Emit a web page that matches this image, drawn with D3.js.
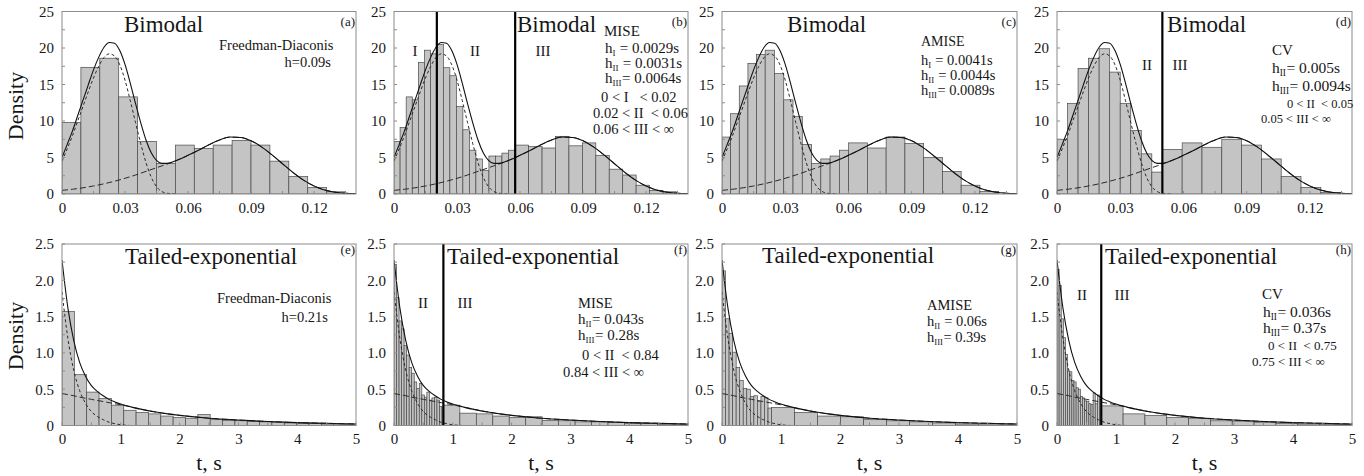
<!DOCTYPE html>
<html><head><meta charset="utf-8">
<script src="https://cdn.jsdelivr.net/npm/d3@7"></script>
<style>
body{margin:0;background:#fff}
text{font-family:"Liberation Serif","Times New Roman",serif;fill:#161616;white-space:pre}
</style>
</head><body><svg id="c" width="1364" height="476"></svg>
<script>
// ---------------- DATA ----------------
const topXTicks = [0, 0.03, 0.06, 0.09, 0.12];
const topYTicks = [0, 5, 10, 15, 20, 25];
const botXTicks = [0, 1, 2, 3, 4, 5];
const botYTicks = [0, 0.5, 1.0, 1.5, 2.0, 2.5];

// (a) Freedman-Diaconis
const aBinWidth = 0.009;
const aDensity = [9.8, 17.35, 18.6, 13.3, 7.2, 4.2, 6.7, 6.25, 6.7, 7.35, 6.7, 4.5, 2.4, 0.9, 0.3];
// (b) MISE
const bEdges = [0, 0.0204, 0.0577, Infinity];
const bWidths = [0.0029, 0.0031, 0.0064];
const bDensityI = [7.2, 9.1, 13.3, 12.9, 18.0, 19.7, 19.2];
const bDensityII = [20.5, 17.3, 16.2, 12.0, 8.8, 6.0, 4.8, 3.2, 5.2, 5.2, 5.6, 6.0];
const bDensityIII = [6.7, 6.5, 6.3, 7.9, 6.6, 7.0, 5.3, 3.4, 2.6, 1.2, 0.5, 0.3];
const bDividers = [0.0204, 0.0577];
// (c) AMISE
const cEdges = [0, 0.0205, 0.0601, Infinity];
const cWidths = [0.0041, 0.0044, 0.0089];
const cDensityI = [7.8, 11.0, 14.8, 17.9, 19.1];
const cDensityII = [19.7, 16.5, 12.9, 10.6, 6.8, 4.2, 4.8, 5.2, 6.0];
const cDensityIII = [7.0, 6.3, 7.8, 6.9, 5.0, 3.1, 1.2, 0.35];
// (d) CV
const dEdges = [0, 0.05, Infinity];
const dWidths = [0.005, 0.0094];
const dDensityII = [7.5, 12.4, 17.2, 18.6, 19.9, 16.7, 12.4, 8.7, 5.5, 3.0];
const dDensityIII = [6.1, 7.0, 6.4, 7.5, 6.7, 4.8, 2.4, 0.9, 0.2];
const dDividers = [0.05];

// Bimodal fitted curves
const bimX = [0, 0.0025, 0.005, 0.0075, 0.01, 0.0125, 0.015, 0.0175, 0.02, 0.0225, 0.025, 0.0275, 0.03, 0.0325, 0.035, 0.0375, 0.04, 0.0425, 0.045, 0.0475, 0.05, 0.055];
const bimNarrow = [4.5, 6.2, 8.0, 10.0, 12.0, 14.0, 15.9, 17.5, 18.7, 19.2, 18.9, 17.7, 15.6, 12.8, 9.8, 6.9, 4.3, 2.3, 1.0, 0.35, 0.1, 0.0];
const bimWideX = [0, 0.005, 0.01, 0.015, 0.02, 0.025, 0.03, 0.035, 0.04, 0.045, 0.05, 0.055, 0.06, 0.065, 0.07, 0.075, 0.08, 0.085, 0.09, 0.095, 0.1, 0.105, 0.11, 0.115, 0.12, 0.125, 0.13, 0.135, 0.14];
const bimWide = [0.5, 0.65, 0.85, 1.1, 1.4, 1.75, 2.15, 2.6, 3.1, 3.6, 4.1, 4.65, 5.3, 6.0, 6.75, 7.4, 7.8, 7.75, 7.3, 6.45, 5.35, 4.15, 2.95, 1.9, 1.1, 0.55, 0.25, 0.1, 0.04];
const bimMixX = [0, 0.0025, 0.005, 0.0075, 0.01, 0.0125, 0.015, 0.0175, 0.02, 0.0225, 0.025, 0.0275, 0.03, 0.0325, 0.035, 0.0375, 0.04, 0.0425, 0.045, 0.0475, 0.05, 0.055, 0.06, 0.065, 0.07, 0.075, 0.08, 0.085, 0.09, 0.095, 0.1, 0.105, 0.11, 0.115, 0.12, 0.125, 0.13, 0.135, 0.14];
const bimMix = [5.0, 6.8, 8.65, 10.75, 12.85, 14.95, 17.0, 18.75, 20.1, 20.75, 20.65, 19.65, 17.75, 15.2, 12.4, 9.75, 7.4, 5.65, 4.6, 4.2, 4.2, 4.65, 5.3, 6.0, 6.75, 7.4, 7.8, 7.75, 7.3, 6.45, 5.35, 4.15, 2.95, 1.9, 1.1, 0.55, 0.25, 0.1, 0.04];

// (e) Freedman-Diaconis
const eBinWidth = 0.21;
const eDensity = [1.57, 0.70, 0.46, 0.37, 0.28, 0.21, 0.18, 0.16, 0.13, 0.11, 0.10, 0.15, 0.08, 0.07, 0.065, 0.055, 0.05, 0.045, 0.035, 0.03, 0.03, 0.02, 0.02, 0.02];
// (f) MISE
const fEdges = [0, 0.84, Infinity];
const fWidths = [0.043, 0.28];
const fDensityII = [2.22, 1.76, 1.44, 1.33, 1.10, 0.97, 0.80, 0.72, 0.60, 0.51, 0.58, 0.42, 0.39, 0.46, 0.35, 0.38, 0.39, 0.35, 0.26, 0.25];
const fDensityIII = [0.28, 0.17, 0.16, 0.13, 0.11, 0.12, 0.07, 0.065, 0.05, 0.05, 0.04, 0.025, 0.025, 0.015, 0.015];
const fDividers = [0.84];
// (g) AMISE
const gEdges = [0, 0.84, Infinity];
const gWidths = [0.06, 0.39];
const gDensityII = [2.13, 1.47, 1.27, 1.01, 0.80, 0.62, 0.51, 0.50, 0.40, 0.41, 0.33, 0.40, 0.38, 0.24];
const gDensityIII = [0.25, 0.18, 0.13, 0.12, 0.08, 0.065, 0.05, 0.035, 0.02, 0.02, 0.02];
// (h) CV
const hEdges = [0, 0.75, Infinity];
const hWidths = [0.036, 0.37];
const hDensityII = [2.15, 1.93, 1.47, 1.21, 0.98, 0.75, 0.74, 0.62, 0.60, 0.52, 0.50, 0.40, 0.38, 0.34, 0.33, 0.30, 0.29, 0.45, 0.30, 0.42, 0.36];
const hDensityIII = [0.27, 0.16, 0.14, 0.11, 0.10, 0.065, 0.06, 0.045, 0.03, 0.02, 0.015, 0.015];
const hDividers = [0.75];

// Tailed-exponential fitted curves
const expT = [0, 0.1, 0.2, 0.3, 0.4, 0.5, 0.6, 0.7, 0.8, 0.9, 1.0, 1.2, 1.4, 1.6, 1.8, 2.0, 2.5, 3.0, 3.5, 4.0, 4.5, 5.0];
const expSlow = [0.44, 0.425, 0.41, 0.39, 0.375, 0.36, 0.345, 0.33, 0.315, 0.30, 0.285, 0.25, 0.215, 0.185, 0.16, 0.14, 0.10, 0.075, 0.055, 0.04, 0.03, 0.02];
const expFast = [1.84, 1.2, 0.76, 0.48, 0.305, 0.19, 0.125, 0.08, 0.045, 0.025, 0.01, 0, 0, 0, 0, 0, 0, 0, 0, 0, 0, 0];
const expMix = [2.28, 1.62, 1.17, 0.87, 0.68, 0.55, 0.47, 0.41, 0.36, 0.325, 0.295, 0.25, 0.215, 0.185, 0.16, 0.14, 0.10, 0.075, 0.055, 0.04, 0.03, 0.02];

// ---------------- LAYOUT ----------------
const colX = [[62, 356], [394, 688], [722, 1017], [1057, 1352]];
const rowY = [[194, 11.5], [425.5, 244]];

const zip = (xs, ys) => xs.map((x, i) => [x, ys[i]]);
const region = (start, end, w, vals) => vals.map((v, i) => ({x0: start + i * w, x1: Math.min(start + (i + 1) * w, end), v}));

const topCurves = [
  {pts: zip(bimX, bimNarrow), dash: "3,2.5"},
  {pts: zip(bimWideX, bimWide), dash: "6,3"},
  {pts: zip(bimMixX, bimMix), dash: null}
];
const botCurves = [
  {pts: zip(expT, expFast), dash: "3,2.5"},
  {pts: zip(expT, expSlow), dash: "6,3"},
  {pts: zip(expT, expMix), dash: null}
];

const panels = [
  {row: 0, col: 0, letter: "(a)", bins: region(0, Infinity, aBinWidth, aDensity), div: [],
   title: {x: 124, y: 32, t: "Bimodal"},
   notes: [{x: 219, y: 50, t: "Freedman-Diaconis", s: 14.5}, {x: 331, y: 67, t: "h=0.09s", a: "end", s: 14.5}]},
  {row: 0, col: 1, letter: "(b)", bins: [].concat(region(bEdges[0], bEdges[1], bWidths[0], bDensityI), region(bEdges[1], bEdges[2], bWidths[1], bDensityII), region(bEdges[2], bEdges[3], bWidths[2], bDensityIII)), div: bDividers,
   title: {x: 517, y: 32, t: "Bimodal"},
   notes: [{x: 415, y: 56, t: "I", a: "middle", s: 15}, {x: 475, y: 56, t: "II", a: "middle", s: 15}, {x: 543, y: 56, t: "III", a: "middle", s: 15},
     {x: 604, y: 36, t: "MISE", s: 15}, {x: 605, y: 53, t: "h_{I} = 0.0029s", s: 15}, {x: 605, y: 68, t: "h_{II} = 0.0031s", s: 15}, {x: 605, y: 83, t: "h_{III}= 0.0064s", s: 15},
     {x: 601, y: 102, t: "0 < I   < 0.02", s: 14.5}, {x: 593, y: 117.5, t: "0.02 < II  < 0.06", s: 14.5}, {x: 593, y: 133.5, t: "0.06 < III < \u221E", s: 14.5}]},
  {row: 0, col: 2, letter: "(c)", bins: [].concat(region(cEdges[0], cEdges[1], cWidths[0], cDensityI), region(cEdges[1], cEdges[2], cWidths[1], cDensityII), region(cEdges[2], cEdges[3], cWidths[2], cDensityIII)), div: [],
   title: {x: 787, y: 32, t: "Bimodal"},
   notes: [{x: 921, y: 46, t: "AMISE", s: 14}, {x: 921, y: 65, t: "h_{I} = 0.0041s", s: 14.5}, {x: 921, y: 80, t: "h_{II} = 0.0044s", s: 14.5}, {x: 921, y: 95, t: "h_{III}= 0.0089s", s: 14.5}]},
  {row: 0, col: 3, letter: "(d)", bins: [].concat(region(dEdges[0], dEdges[1], dWidths[0], dDensityII), region(dEdges[1], dEdges[2], dWidths[1], dDensityIII)), div: dDividers,
   title: {x: 1167, y: 32, t: "Bimodal"},
   notes: [{x: 1147, y: 70, t: "II", a: "middle", s: 15}, {x: 1180, y: 70, t: "III", a: "middle", s: 15},
     {x: 1272, y: 55, t: "CV", s: 15}, {x: 1272, y: 73, t: "h_{II}= 0.005s", s: 15.5}, {x: 1272, y: 91, t: "h_{III}= 0.0094s", s: 15.5},
     {x: 1287, y: 108, t: "0 < II  < 0.05", s: 12.5}, {x: 1261, y: 123, t: "0.05 < III < \u221E", s: 12.5}]},
  {row: 1, col: 0, letter: "(e)", bins: region(0, Infinity, eBinWidth, eDensity), div: [],
   title: {x: 125, y: 264, t: "Tailed-exponential"},
   notes: [{x: 217, y: 303, t: "Freedman-Diaconis", s: 14.5}, {x: 328, y: 322, t: "h=0.21s", a: "end", s: 14.5}]},
  {row: 1, col: 1, letter: "(f)", bins: [].concat(region(fEdges[0], fEdges[1], fWidths[0], fDensityII), region(fEdges[1], fEdges[2], fWidths[1], fDensityIII)), div: fDividers,
   title: {x: 447, y: 264, t: "Tailed-exponential"},
   notes: [{x: 423, y: 308, t: "II", a: "middle", s: 15}, {x: 465, y: 308, t: "III", a: "middle", s: 15},
     {x: 578, y: 308, t: "MISE", s: 14.5}, {x: 578, y: 324, t: "h_{II}= 0.043s", s: 15}, {x: 578, y: 340, t: "h_{III}= 0.28s", s: 15},
     {x: 582, y: 360, t: "0 < II  < 0.84", s: 14.5}, {x: 563, y: 377, t: "0.84 < III < \u221E", s: 14.5}]},
  {row: 1, col: 2, letter: "(g)", bins: [].concat(region(gEdges[0], gEdges[1], gWidths[0], gDensityII), region(gEdges[1], gEdges[2], gWidths[1], gDensityIII)), div: [],
   title: {x: 762, y: 263, t: "Tailed-exponential"},
   notes: [{x: 927, y: 310, t: "AMISE", s: 14.5}, {x: 927, y: 326, t: "h_{II} = 0.06s", s: 14.5}, {x: 927, y: 342, t: "h_{III}= 0.39s", s: 14.5}]},
  {row: 1, col: 3, letter: "(h)", bins: [].concat(region(hEdges[0], hEdges[1], hWidths[0], hDensityII), region(hEdges[1], hEdges[2], hWidths[1], hDensityIII)), div: hDividers,
   title: {x: 1105, y: 264, t: "Tailed-exponential"},
   notes: [{x: 1082, y: 300, t: "II", a: "middle", s: 15}, {x: 1122, y: 300, t: "III", a: "middle", s: 15},
     {x: 1262, y: 299, t: "CV", s: 15}, {x: 1263, y: 317, t: "h_{II}= 0.036s", s: 15.5}, {x: 1263, y: 333, t: "h_{III}= 0.37s", s: 15.5},
     {x: 1268, y: 350, t: "0 < II  < 0.75", s: 13}, {x: 1252, y: 366, t: "0.75 < III < \u221E", s: 13}]}
];

// ---------------- DRAW ----------------
const svg = d3.select("#c");
svg.append("rect").attr("width", 1364).attr("height", 476).attr("fill", "#fff");

// text with subscripts: each piece is its own text element placed after the previous one
function rich(g, x, y, str, size, anchor) {
  const parts = str.split(/(_\{[^}]*\})/).filter(p => p);
  const grp = g.append("g");
  let cx = 0;
  parts.forEach(p => {
    const m = p.match(/^_\{(.*)\}$/);
    const t = grp.append("text").attr("x", cx).attr("y", m ? 3 : 0)
      .attr("font-size", m ? size * 0.6 : size).text(m ? m[1] : p);
    cx += t.node().getComputedTextLength() + (m ? 0.5 : 0);
  });
  const shift = anchor === "end" ? -cx : anchor === "middle" ? -cx / 2 : 0;
  grp.attr("transform", `translate(${x + shift},${y})`);
}

panels.forEach((p, idx) => {
  const [x0, x1] = colX[p.col];
  const [y0, y1] = rowY[p.row];
  const xs = d3.scaleLinear().domain(p.row === 0 ? [0, 0.14] : [0, 5]).range([x0, x1]);
  const ys = d3.scaleLinear().domain(p.row === 0 ? [0, 25] : [0, 2.5]).range([y0, y1]);
  const g = svg.append("g");
  const cid = "clip" + idx;
  svg.append("clipPath").attr("id", cid).append("rect").attr("x", x0).attr("y", y1).attr("width", x1 - x0).attr("height", y0 - y1);
  const plot = g.append("g").attr("clip-path", `url(#${cid})`);

  plot.selectAll("rect.bar").data(p.bins).join("rect").attr("class", "bar")
    .attr("x", d => xs(d.x0)).attr("width", d => xs(d.x1) - xs(d.x0))
    .attr("y", d => ys(d.v)).attr("height", d => ys(0) - ys(d.v))
    .attr("fill", "#c4c4c4").attr("stroke", "#4a4a4a").attr("stroke-width", 0.7);

  const line = d3.line().x(d => xs(d[0])).y(d => ys(d[1])).curve(d3.curveMonotoneX);
  (p.row === 0 ? topCurves : botCurves).forEach(c => {
    plot.append("path").attr("d", line(c.pts)).attr("fill", "none")
      .attr("stroke", c.dash ? "#2a2a2a" : "#111").attr("stroke-width", c.dash ? 1 : 1.1)
      .attr("stroke-dasharray", c.dash);
  });

  p.div.forEach(v => {
    g.append("line").attr("x1", xs(v)).attr("x2", xs(v)).attr("y1", y1).attr("y2", y0)
      .attr("stroke", "#000").attr("stroke-width", 2.2);
  });

  g.append("rect").attr("x", x0).attr("y", y1).attr("width", x1 - x0).attr("height", y0 - y1)
    .attr("fill", "none").attr("stroke", "#8c8c8c").attr("stroke-width", 1);

  const yTicks = p.row === 0 ? topYTicks : botYTicks;
  const xTicks = p.row === 0 ? topXTicks : botXTicks;
  const yAxis = d3.axisLeft(ys).tickValues(yTicks).tickSize(0).tickPadding(8)
    .tickFormat(d => p.row === 0 ? String(d) : (d === 0 ? "0" : d3.format(".1f")(d)));
  const xAxis = d3.axisBottom(xs).tickValues(xTicks).tickSize(0).tickPadding(8)
    .tickFormat(d => String(d));
  const ya = g.append("g").attr("transform", `translate(${x0},0)`).call(yAxis);
  const xa = g.append("g").attr("transform", `translate(0,${y0})`).call(xAxis);
  [ya, xa].forEach(a => {
    a.select(".domain").remove();
    a.selectAll("text").attr("font-size", 15).attr("font-family", "Liberation Serif").attr("fill", "#161616");
  });
  const yMinor = d3.range(0, yTicks.length * 2 - 1).map(i => yTicks[0] + i * (yTicks[1] - yTicks[0]) / 2);
  g.selectAll("line.ytk").data(yMinor).join("line").attr("class", "ytk")
    .attr("x1", x0).attr("x2", x0 + 3).attr("y1", d => ys(d)).attr("y2", d => ys(d))
    .attr("stroke", "#8c8c8c").attr("stroke-width", 1);
  const xStep = xTicks[1] - xTicks[0];
  const xMinor = d3.range(0, Math.floor((xs.domain()[1] + 1e-9) / (xStep / 2)) + 1).map(i => i * xStep / 2);
  g.selectAll("line.xtk").data(xMinor).join("line").attr("class", "xtk")
    .attr("x1", d => xs(d)).attr("x2", d => xs(d)).attr("y1", y0).attr("y2", y0 - 3)
    .attr("stroke", "#8c8c8c").attr("stroke-width", 1);

  g.append("text").attr("x", p.title.x).attr("y", p.title.y).attr("font-size", 23).text(p.title.t);
  g.append("text").attr("x", x1 - 1).attr("y", p.row === 0 ? 26 : 254).attr("text-anchor", "end").attr("font-size", 13).text(p.letter);
  p.notes.forEach(n => rich(g, n.x, n.y, n.t, n.s || 15, n.a));

  if (p.row === 1) {
    g.append("text").attr("x", (x0 + x1) / 2).attr("y", 470).attr("text-anchor", "middle").attr("font-size", 22).text("t, s");
  }
});

[[23, 106], [23, 336]].forEach(([x, y]) => {
  svg.append("text").attr("transform", `translate(${x},${y}) rotate(-90)`).attr("text-anchor", "middle")
    .attr("font-size", 22).text("Density");
});
</script></body></html>
